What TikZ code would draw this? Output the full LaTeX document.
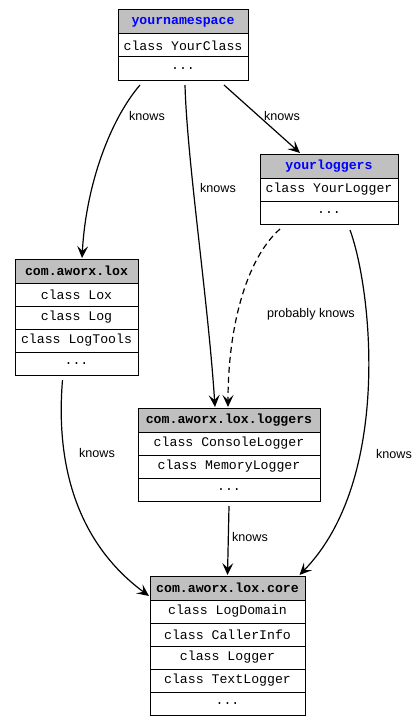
\documentclass[tikz,border=0pt]{standalone}
\usepackage{fontspec}
\setmainfont{Liberation Sans}
\newfontfamily\monofam{Liberation Mono}
\usetikzlibrary{positioning,arrows.meta}
\definecolor{hdrgray}{RGB}{192,192,192}
\definecolor{nsblue}{RGB}{0,0,255}
\newcommand{\monotxt}{\monofam\fontsize{13.2}{15}\selectfont}
\newcommand{\lbltxt}{\fontsize{12.6}{14}\selectfont}
\tikzset{
  hdr/.style={draw, line width=1pt, fill=hdrgray, minimum height=24pt, inner sep=0pt, outer sep=0pt, font=\monotxt\bfseries},
  row/.style={draw, line width=1pt, fill=white, minimum height=23pt, inner sep=0pt, outer sep=0pt, font=\monotxt},
  knows/.style={line width=1.2pt, -{Stealth[length=12pt,width=11pt,inset=5pt]}},
  lbl/.style={font=\lbltxt, inner sep=1pt}
}
\begin{document}
\begin{tikzpicture}[x=1pt, y=-1pt]
\useasboundingbox (0,0) rectangle (419,725);

% yournamespace
\node[hdr, minimum width=130pt, text=nsblue] (ns0) at (183,22) {yournamespace};
\node[row, minimum width=130pt, below=0pt of ns0] (ns1) {class YourClass};
\node[row, minimum width=130pt, below=0pt of ns1] (ns2) {...};

% yourloggers
\node[hdr, minimum width=138pt, text=nsblue] (yl0) at (329,166) {yourloggers};
\node[row, minimum width=138pt, below=0pt of yl0] (yl1) {class YourLogger};
\node[row, minimum width=138pt, below=0pt of yl1] (yl2) {...};

% com.aworx.lox
\node[hdr, minimum width=123pt] (lox0) at (76.5,271) {com.aworx.lox};
\node[row, minimum width=123pt, below=0pt of lox0] (lox1) {class Lox};
\node[row, minimum width=123pt, below=0pt of lox1] (lox2) {class Log};
\node[row, minimum width=123pt, below=0pt of lox2] (lox3) {class LogTools};
\node[row, minimum width=123pt, below=0pt of lox3] (lox4) {...};

% com.aworx.lox.loggers
\node[hdr, minimum width=182pt] (lg0) at (229,420) {com.aworx.lox.loggers};
\node[row, minimum width=182pt, below=0pt of lg0] (lg1) {class ConsoleLogger};
\node[row, minimum width=182pt, below=0pt of lg1] (lg2) {class MemoryLogger};
\node[row, minimum width=182pt, below=0pt of lg2] (lg3) {...};

% com.aworx.lox.core
\node[hdr, minimum width=155pt] (core0) at (227.5,588) {com.aworx.lox.core};
\node[row, minimum width=155pt, below=0pt of core0] (core1) {class LogDomain};
\node[row, minimum width=155pt, below=0pt of core1] (core2) {class CallerInfo};
\node[row, minimum width=155pt, below=0pt of core2] (core3) {class Logger};
\node[row, minimum width=155pt, below=0pt of core3] (core4) {class TextLogger};
\node[row, minimum width=155pt, below=0pt of core4] (core5) {...};

% connectors
\draw[knows] ([xshift=-43pt,yshift=-5pt]ns2.south) .. controls (110,120) and (86,185) .. ([xshift=5.5pt,yshift=1pt]lox0.north);
\draw[knows] ([xshift=2pt,yshift=-5pt]ns2.south) .. controls (187,160) and (208,300) .. ([xshift=-14pt,yshift=1pt]lg0.north);
\draw[knows] ([xshift=41pt,yshift=-5pt]ns2.south) -- ([xshift=-29pt,yshift=1pt]yl0.north);
\draw[knows, dashed, dash pattern=on 6pt off 4pt] ([xshift=-49pt,yshift=-5pt]yl2.south) .. controls (245,260) and (228,330) .. ([xshift=-1pt,yshift=1pt]lg0.north);
\draw[knows] ([xshift=21pt,yshift=-6pt]yl2.south) .. controls (372,290) and (392,480) .. ([xshift=72pt,yshift=1pt]core0.north);
\draw[knows] ([xshift=-14pt,yshift=-5pt]lox4.south) .. controls (55,470) and (80,545) .. ([xshift=-1pt,yshift=-8pt]core0.west);
\draw[knows] ([yshift=-5pt]lg3.south) -- ([yshift=1pt]core0.north);

% labels
\node[lbl] (k1) at (147,116) {knows};
\node[lbl] (k2) at (218,188) {knows};
\node[lbl] (k3) at (282,116) {knows};
\node[lbl] (k4) at (311,314) {probably knows};
\node[lbl] (k5) at (394,454) {knows};
\node[lbl] (k6) at (97,453) {knows};
\node[lbl] (k7) at (250,537) {knows};
\end{tikzpicture}
\end{document}
